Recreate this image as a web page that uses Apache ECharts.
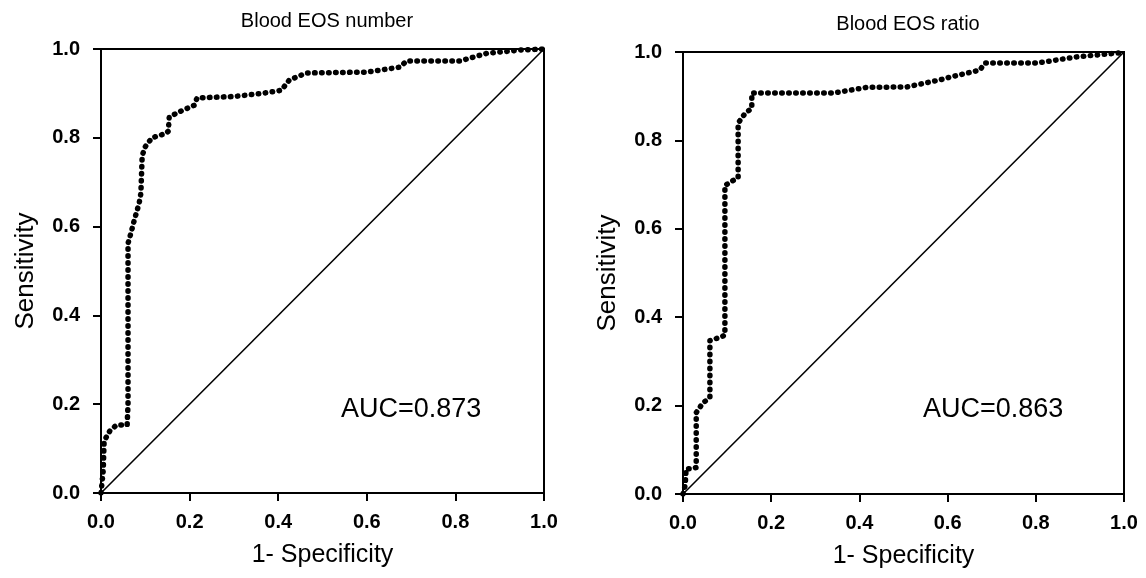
<!DOCTYPE html>
<html>
<head>
<meta charset="utf-8">
<script src="https://cdn.jsdelivr.net/npm/echarts@6/dist/echarts.min.js"></script>
<style>
  html, body { margin: 0; padding: 0; background: #fff; }
  #chart { width: 1146px; height: 578px; }
</style>
</head>
<body>
<div id="chart"></div>
<script>
// ROC curve, blood EOS number (1-specificity, sensitivity)
var numberFpr = [0, 0.005, 0.007, 0.02, 0.035, 0.059, 0.061, 0.061, 0.068, 0.075, 0.086, 0.09, 0.093, 0.1, 0.115, 0.147, 0.152, 0.154, 0.18, 0.21, 0.217, 0.3, 0.364, 0.407, 0.425, 0.464, 0.6, 0.674, 0.69, 0.81, 0.87, 0.95, 1];
var numberTpr = [0, 0.05, 0.117, 0.14, 0.153, 0.153, 0.2, 0.562, 0.587, 0.614, 0.652, 0.675, 0.76, 0.78, 0.8, 0.81, 0.815, 0.847, 0.86, 0.873, 0.89, 0.893, 0.9, 0.907, 0.93, 0.946, 0.948, 0.959, 0.973, 0.973, 0.99, 0.998, 1];

// ROC curve, blood EOS ratio
var ratioFpr = [0, 0.005, 0.007, 0.02, 0.03, 0.03, 0.045, 0.061, 0.061, 0.088, 0.095, 0.095, 0.125, 0.125, 0.14, 0.156, 0.156, 0.34, 0.417, 0.508, 0.583, 0.605, 0.673, 0.685, 0.803, 0.893, 0.99, 1];
var ratioTpr = [0, 0.02, 0.057, 0.057, 0.06, 0.184, 0.206, 0.218, 0.347, 0.356, 0.36, 0.698, 0.716, 0.839, 0.86, 0.873, 0.907, 0.907, 0.92, 0.921, 0.937, 0.943, 0.959, 0.975, 0.975, 0.989, 0.998, 1];

var refLine = [[0, 0], [1, 1]];
var panelTitles = ["Blood EOS number", "Blood EOS ratio"];
var aucLabels = ["AUC=0.873", "AUC=0.863"];

function zip(xs, ys) {
  var out = [];
  for (var i = 0; i < xs.length; i++) out.push([xs[i], ys[i]]);
  return out;
}

var chart = echarts.init(document.getElementById("chart"));
var font = "Liberation Sans, Arial, sans-serif";

function tickFmt(v) { return v.toFixed(1); }

function xAxisFor(idx) {
  return {
    gridIndex: idx, type: "value", min: 0, max: 1, interval: 0.2,
    name: "1- Specificity", nameLocation: "middle", nameGap: 50,
    nameTextStyle: { fontSize: 25, color: "#000", fontFamily: font },
    axisLine: { show: true, lineStyle: { color: "#000", width: 2 } },
    axisTick: { show: true, length: 8, lineStyle: { color: "#000", width: 2 } },
    axisLabel: { fontSize: 20, fontWeight: "bold", color: "#000", fontFamily: font, margin: 19, formatter: tickFmt },
    splitLine: { show: false }
  };
}
function yAxisFor(idx) {
  return {
    gridIndex: idx, type: "value", min: 0, max: 1, interval: 0.2,
    name: "Sensitivity", nameLocation: "middle", nameGap: 62,
    nameTextStyle: { fontSize: 26, color: "#000", fontFamily: font },
    axisLine: { show: true, lineStyle: { color: "#000", width: 2 } },
    axisTick: { show: true, length: 8, lineStyle: { color: "#000", width: 2 } },
    axisLabel: { fontSize: 20, fontWeight: "bold", color: "#000", fontFamily: font, margin: 21, formatter: tickFmt },
    splitLine: { show: false }
  };
}
function rocSeries(idx, data) {
  return {
    type: "line", xAxisIndex: idx, yAxisIndex: idx, data: data,
    showSymbol: false, symbol: "none", silent: true,
    lineStyle: { color: "#000", width: 5.5, type: [0.5, 6.5], cap: "round", join: "round" }
  };
}
function diagSeries(idx) {
  return {
    type: "line", xAxisIndex: idx, yAxisIndex: idx, data: refLine,
    showSymbol: false, symbol: "none", silent: true,
    lineStyle: { color: "#000", width: 1.6 }
  };
}

var option = {
  animation: false,
  backgroundColor: "#fff",
  title: [
    { text: panelTitles[0], left: 322, top: 6, textAlign: "center",
      textStyle: { fontSize: 20, fontWeight: "normal", color: "#000", fontFamily: font } },
    { text: panelTitles[1], left: 903, top: 9, textAlign: "center",
      textStyle: { fontSize: 20, fontWeight: "normal", color: "#000", fontFamily: font } },
    { text: aucLabels[0], left: 336, top: 391,
      textStyle: { fontSize: 27, fontWeight: "normal", color: "#000", fontFamily: font } },
    { text: aucLabels[1], left: 918, top: 391,
      textStyle: { fontSize: 27, fontWeight: "normal", color: "#000", fontFamily: font } }
  ],
  grid: [
    { left: 101, top: 49, width: 443, height: 444, show: true, borderColor: "#000", borderWidth: 2, backgroundColor: "transparent" },
    { left: 683, top: 52, width: 441, height: 442, show: true, borderColor: "#000", borderWidth: 2, backgroundColor: "transparent" }
  ],
  xAxis: [xAxisFor(0), xAxisFor(1)],
  yAxis: [yAxisFor(0), yAxisFor(1)],
  series: [
    diagSeries(0),
    rocSeries(0, zip(numberFpr, numberTpr)),
    diagSeries(1),
    rocSeries(1, zip(ratioFpr, ratioTpr))
  ]
};

chart.setOption(option);
</script>
</body>
</html>
